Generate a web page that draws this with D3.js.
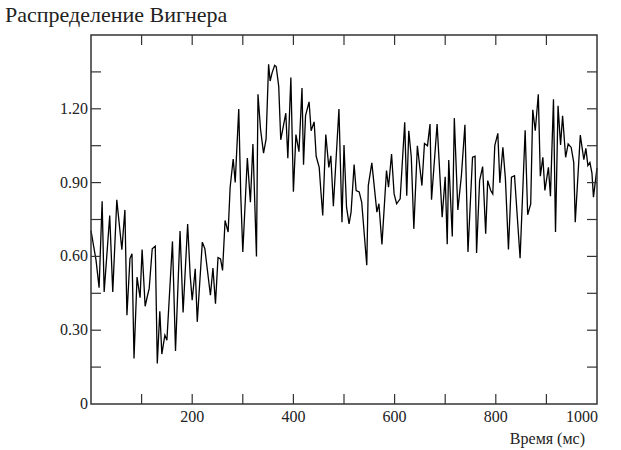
<!DOCTYPE html>
<html lang="ru">
	<head>
		<meta charset="utf-8">
		<script src="https://d3js.org/d3.v7.min.js"></script>
		<title>Распределение Вигнера</title>
		<style>
			body { margin:0; background:white; }
			svg text { font-family:"Liberation Serif", "Times New Roman", serif; fill:#222; }
			.frame { fill:none; stroke:#333; stroke-width:1.5px; }
			.tick { stroke:#333; stroke-width:1.2px; }
			.series { fill:none; stroke:black; stroke-width:1.3px; stroke-linejoin:miter; }
		</style>
	</head>
	<body>
		<script type="text/javascript">

		var width = 621,
			height = 450;

		// время (мс) и значения
		var times = [0,10,16,22,26,37,43,51,61,67,71,77,81,85,91,97,101,107,111,115,
			121,127,131,136,140,146,150,161,167,176,182,191,196,200,206,210,220,225,236,241,
			246,251,256,260,265,271,275,281,285,292,296,300,309,315,320,327,330,335,341,346,
			351,354,358,363,366,371,375,385,389,395,400,405,411,417,420,424,431,435,441,445,
			451,454,458,464,470,474,479,490,496,500,505,510,514,520,524,530,535,545,548,555,
			565,569,575,584,588,594,599,604,611,620,624,628,633,638,645,654,659,665,670,673,
			684,694,700,704,707,714,718,725,732,739,745,754,759,762,768,774,780,784,790,794,
			798,804,808,814,819,825,831,837,848,858,863,869,873,878,884,888,893,897,904,908,
			914,918,923,928,932,938,943,949,954,957,967,974,978,982,986,990,993,1000];
		var values = [0.705,0.584,0.473,0.824,0.455,0.766,0.455,0.830,0.627,0.789,0.361,0.591,0.611,0.185,0.516,0.432,0.628,0.397,0.435,0.469,
			0.631,0.642,0.165,0.377,0.203,0.280,0.259,0.661,0.216,0.703,0.372,0.732,0.523,0.422,0.550,0.334,0.658,0.631,0.442,0.553,
			0.408,0.595,0.590,0.543,0.746,0.699,0.881,0.996,0.901,1.199,0.847,0.618,1.000,0.820,1.057,0.600,1.259,1.118,1.020,1.077,
			1.381,1.313,1.347,1.377,1.372,1.291,1.074,1.182,0.999,1.327,0.863,1.095,1.026,1.284,0.973,1.172,1.228,1.111,1.147,1.007,
			0.962,0.874,0.766,1.095,0.962,1.009,0.804,1.199,0.739,1.053,0.800,0.732,0.780,0.973,0.868,0.862,0.820,0.564,0.888,0.980,
			0.780,0.814,0.649,0.949,0.881,1.016,0.854,0.814,0.834,1.145,0.847,1.111,1.003,0.712,1.050,0.888,1.059,1.050,1.138,0.830,
			1.138,0.759,0.924,0.649,0.992,0.681,1.162,0.789,0.928,1.135,0.618,1.003,1.007,0.614,0.908,0.965,0.692,0.908,0.868,0.854,
			1.050,1.100,0.899,1.043,0.915,0.628,0.922,0.928,0.593,1.113,0.769,0.813,1.196,1.111,1.259,0.926,1.003,0.868,0.962,0.845,
			1.239,0.699,1.212,1.053,1.172,1.003,1.057,1.043,0.982,0.739,1.093,0.993,1.039,0.969,0.982,0.939,0.841,0.960];

		var xTickValues = [200,400,600,800,1000],
			xTickLabels = ["200","400","600","800","1000"];
		var yTickValues = [0,0.3,0.6,0.9,1.2],
			yTickLabels = ["0","0.30","0.60","0.90","1.20"];
		var xMinorTicks = [100,200,300,400,500,600,700,800,900];
		var yMinorTicks = [0.15,0.3,0.45,0.6,0.75,0.9,1.05,1.2,1.35];

		var mLeft = 91, mRight = 597, mTop = 35, mBottom = 404;

		var X = d3.scaleLinear().domain([0,1000]).range([mLeft,mRight]);
		var Y = d3.scaleLinear().domain([0,1.5]).range([mBottom,mTop]);

		var svg = d3.select("body").append("svg")
			.attr("width", width)
			.attr("height", height);

		var data = times.map(function(t,i){ return {t:t, v:values[i]}; });
		var line = d3.line().x(function(d){ return X(d.t); }).y(function(d){ return Y(d.v); });

		svg.append("path").datum(data)
			.attr("class","series")
			.attr("d", line);

		// рамка
		svg.append("rect").attr("class","frame")
			.attr("x",mLeft).attr("y",mTop)
			.attr("width",mRight-mLeft).attr("height",mBottom-mTop);

		var tl = 10;
		// штрихи по X (снизу и сверху, внутрь)
		svg.selectAll(".xtb").data(xMinorTicks).enter().append("line")
			.attr("class","tick")
			.attr("x1",function(d){return X(d);}).attr("x2",function(d){return X(d);})
			.attr("y1",mBottom).attr("y2",mBottom-tl);
		svg.selectAll(".xtt").data(xMinorTicks).enter().append("line")
			.attr("class","tick")
			.attr("x1",function(d){return X(d);}).attr("x2",function(d){return X(d);})
			.attr("y1",mTop).attr("y2",mTop+tl);
		// штрихи по Y (слева и справа)
		svg.selectAll(".ytl").data(yMinorTicks).enter().append("line")
			.attr("class","tick")
			.attr("y1",function(d){return Y(d);}).attr("y2",function(d){return Y(d);})
			.attr("x1",mLeft).attr("x2",mLeft+tl);
		svg.selectAll(".ytr").data(yMinorTicks).enter().append("line")
			.attr("class","tick")
			.attr("y1",function(d){return Y(d);}).attr("y2",function(d){return Y(d);})
			.attr("x1",mRight).attr("x2",mRight-tl);

		// подписи
		svg.selectAll(".xl").data(xTickValues).enter().append("text")
			.attr("x",function(d){return d==1000 ? X(d)+1 : X(d);})
			.attr("y",mBottom+18)
			.attr("text-anchor",function(d){return d==1000 ? "end" : "middle";})
			.style("font-size","16px")
			.text(function(d,i){return xTickLabels[i];});

		svg.selectAll(".yl").data(yTickValues).enter().append("text")
			.attr("x",mLeft-3)
			.attr("y",function(d){return Y(d)+5;})
			.attr("text-anchor","end")
			.style("font-size","16px")
			.text(function(d,i){return yTickLabels[i];});

		svg.append("text")
			.attr("x",5).attr("y",22)
			.style("font-size","22px")
			.text("Распределение Вигнера");

		svg.append("text")
			.attr("x",585).attr("y",444)
			.attr("text-anchor","end")
			.style("font-size","16px")
			.text("Время (мс)");

		</script>
	</body>
</html>
